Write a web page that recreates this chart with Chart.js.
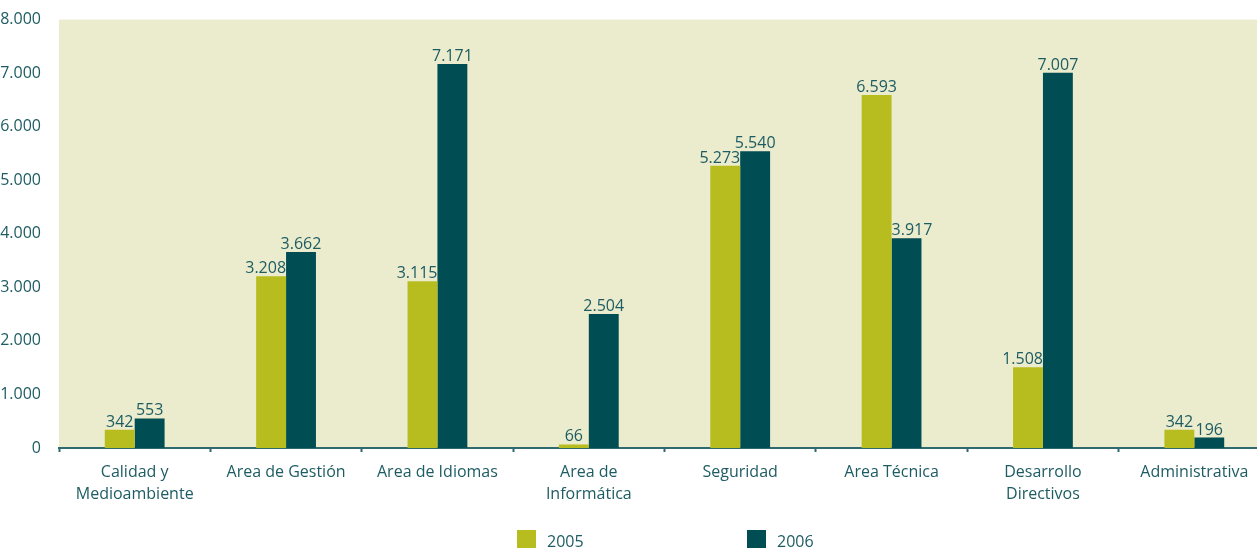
<!DOCTYPE html>
<html lang="es">
<head>
<meta charset="utf-8">
<title>Horas de formación por área</title>
<script src="https://cdn.jsdelivr.net/npm/chart.js@4.4.1/dist/chart.umd.min.js"></script>
<style>
  html, body { margin: 0; padding: 0; background: #ffffff; }
  #wrap { position: relative; width: 1257px; height: 548px; overflow: hidden; }
  #legend { position: absolute; top: 530px; left: 0; width: 1257px; height: 30px; font-family: "Open Sans", sans-serif; font-size: 16px; color: #1d5c62; }
  .item { position: absolute; top: 0; display: flex; align-items: flex-start; }
  .swatch { width: 19px; height: 19px; margin-right: 11px; }
  .item span { line-height: 22px; margin-top: 0px; }
</style>
</head>
<body>
<div id="wrap">
  <canvas id="barChart" width="1270" height="548"></canvas>
  <div id="legend"></div>
</div>
<script>
// Áreas de formación
const categories = [
    ['Calidad y', 'Medioambiente'],
    'Area de Gestión',
    'Area de Idiomas',
    ['Area de', 'Informática'],
    'Seguridad',
    'Area Técnica',
    ['Desarrollo', 'Directivos'],
    'Administrativa'
];

const values2005 = [342, 3208, 3115, 66, 5273, 6593, 1508, 342];
const values2006 = [553, 3662, 7171, 2504, 5540, 3917, 7007, 196];

const seriesNames = ['2005', '2006'];
const seriesColors = ['#b8bd1f', '#004d53'];

const yTicks = [0, 1000, 2000, 3000, 4000, 5000, 6000, 7000, 8000];

const textColor = '#1d5c62';
const fontFamily = '"Open Sans", sans-serif';

// 3208 -> "3.208"
function formatNumber(v) {
    return String(v).replace(/\B(?=(\d{3})+(?!\d))/g, '.');
}

// beige panel behind the bars
const plotBackground = {
    id: 'plotBackground',
    beforeDraw(chart) {
        const { ctx, chartArea } = chart;
        ctx.save();
        ctx.fillStyle = '#ebebcd';
        ctx.fillRect(chartArea.left, chartArea.top, chartArea.right - chartArea.left, chartArea.bottom - chartArea.top);
        ctx.restore();
    }
};

// value labels above each bar; a label is pushed away from a taller
// neighbouring bar so it doesn't run into it
const barValues = {
    id: 'barValues',
    afterDatasetsDraw(chart) {
        const ctx = chart.ctx;
        const sets = chart.data.datasets;
        ctx.save();
        ctx.font = '16px ' + fontFamily;
        ctx.fillStyle = textColor;
        ctx.textAlign = 'center';
        ctx.textBaseline = 'alphabetic';
        sets.forEach((ds, i) => {
            chart.getDatasetMeta(i).data.forEach((bar, j) => {
                const txt = formatNumber(ds.data[j]);
                const half = ctx.measureText(txt).width / 2;
                let x = bar.x;
                if (i === 0 && sets[1].data[j] > ds.data[j]) {
                    x = Math.min(x, bar.x + bar.width / 2 - half);
                } else if (i === 1 && sets[0].data[j] > ds.data[j]) {
                    x = Math.max(x, bar.x - bar.width / 2 + half);
                }
                ctx.fillText(txt, x, bar.y - 3);
            });
        });
        ctx.restore();
    }
};

const ctx = document.getElementById('barChart').getContext('2d');
const chart = new Chart(ctx, {
    type: 'bar',
    data: {
        labels: categories,
        datasets: [
            {
                label: seriesNames[0],
                data: values2005,
                backgroundColor: seriesColors[0],
                categoryPercentage: 0.395,
                barPercentage: 1.0
            },
            {
                label: seriesNames[1],
                data: values2006,
                backgroundColor: seriesColors[1],
                categoryPercentage: 0.395,
                barPercentage: 1.0
            }
        ]
    },
    options: {
        responsive: false,
        animation: false,
        layout: { padding: { top: 19, right: 0, left: 0, bottom: 0 } },
        plugins: {
            legend: { display: false },
            tooltip: { enabled: false }
        },
        scales: {
            x: {
                grid: {
                    display: true,
                    offset: true,
                    drawOnChartArea: false,
                    drawTicks: true,
                    tickLength: 4,
                    tickWidth: 2,
                    color: '#2f6a70'
                },
                border: { display: true, color: '#2f6a70', width: 2 },
                ticks: {
                    color: textColor,
                    font: { family: fontFamily, size: 16, lineHeight: 1.375 },
                    padding: 9,
                    maxRotation: 0,
                    autoSkip: false
                },
                afterFit(scale) { scale.height = 100; }
            },
            y: {
                min: yTicks[0],
                max: yTicks[yTicks.length - 1],
                afterBuildTicks(scale) {
                    scale.ticks = yTicks.map(v => ({ value: v }));
                },
                grid: { display: false },
                border: { display: false },
                ticks: {
                    color: textColor,
                    font: { family: fontFamily, size: 16 },
                    padding: 10,
                    callback: v => formatNumber(v)
                },
                afterFit(scale) { scale.width = 59; }
            }
        }
    },
    plugins: [plotBackground, barValues]
});

// legend below the chart
const legendEl = document.getElementById('legend');
const legendLeft = [517, 747];
seriesNames.forEach((name, i) => {
    const item = document.createElement('div');
    item.className = 'item';
    item.style.left = legendLeft[i] + 'px';
    const sw = document.createElement('div');
    sw.className = 'swatch';
    sw.style.background = seriesColors[i];
    const label = document.createElement('span');
    label.textContent = name;
    item.appendChild(sw);
    item.appendChild(label);
    legendEl.appendChild(item);
});
</script>
</body>
</html>
